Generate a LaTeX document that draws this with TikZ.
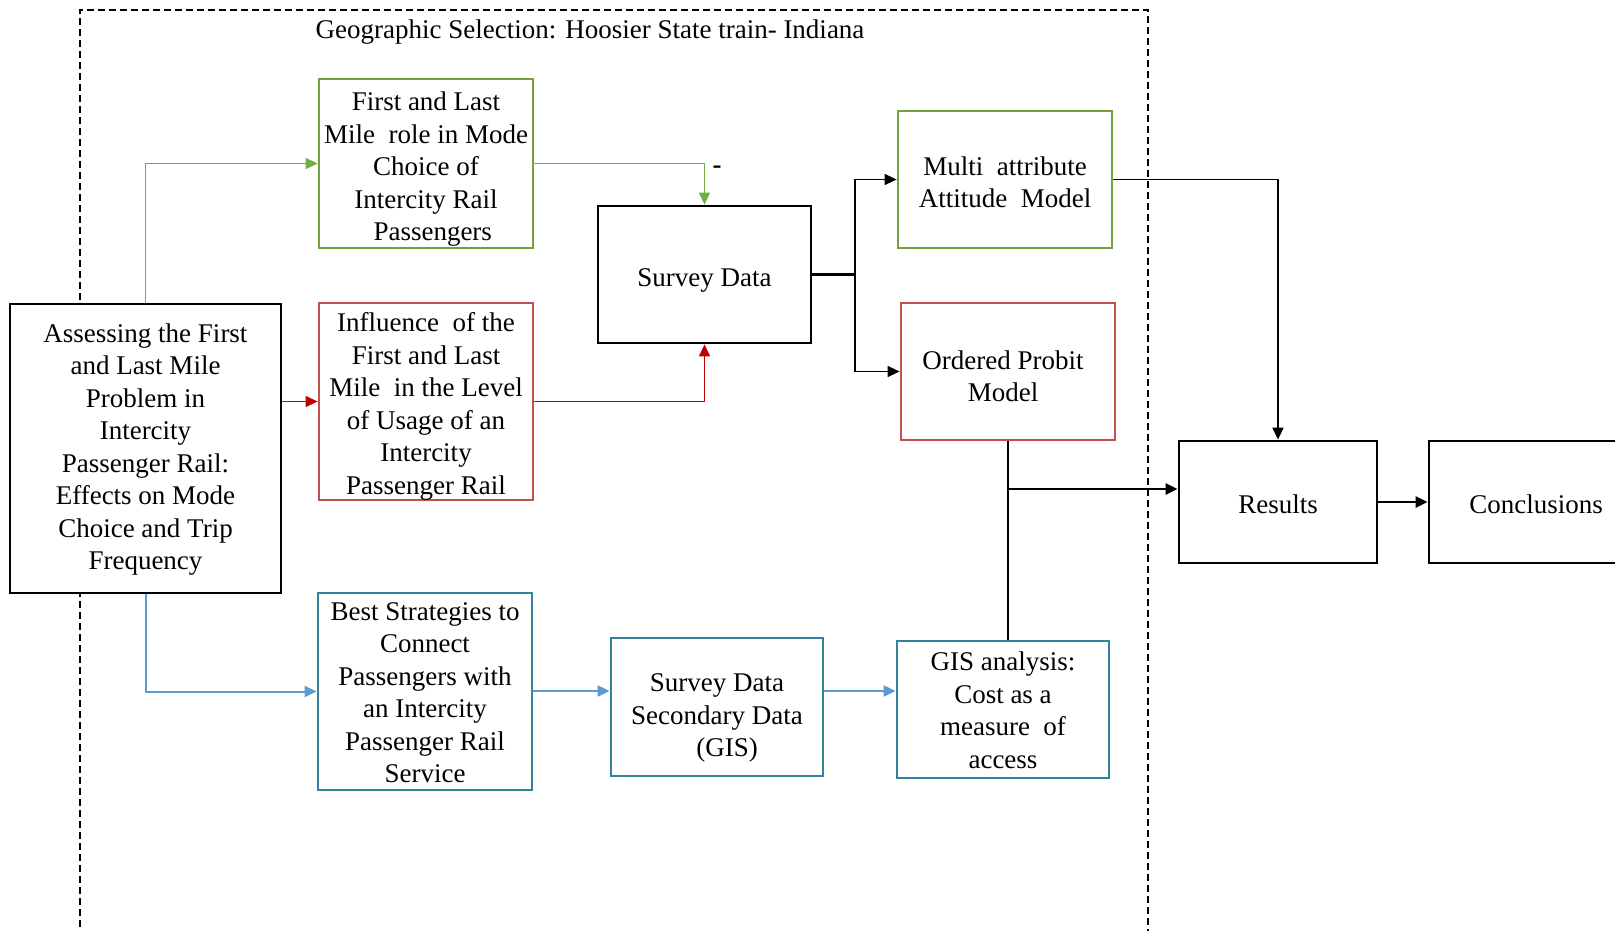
\documentclass[tikz,border=0pt]{standalone}
\usepackage{fontspec}
\setmainfont{Liberation Serif}
\usetikzlibrary{arrows.meta}

\definecolor{boxgreen}{HTML}{77A03C}
\definecolor{linegreen}{HTML}{70AD47}
\definecolor{boxred}{HTML}{C0504D}
\definecolor{linered}{HTML}{C00000}
\definecolor{boxteal}{HTML}{31849B}
\definecolor{lineblue}{HTML}{5B9BD5}

\newcommand{\boxfont}{\fontsize{27}{32.5}\selectfont}

\tikzset{
  tip/.style={-{Triangle[length=12pt,width=11pt]}},
  blockbox/.style={draw, fill=white, line width=2.8pt, rectangle, inner sep=0pt},
  greenbox/.style={blockbox, draw=boxgreen},
  redbox/.style={blockbox, draw=boxred},
  tealbox/.style={blockbox, draw=boxteal},
  blackbox/.style={blockbox, draw=black},
  txt/.style={inner sep=0pt, align=center, font=\boxfont},
  gline/.style={draw=linegreen, line width=1.5pt, tip},
  rline/.style={draw=linered, line width=1.5pt, tip},
  bline/.style={draw=lineblue, line width=2pt, tip},
  kline/.style={draw=black, line width=1.5pt, tip},
  kthick/.style={draw=black, line width=2.8pt, tip},
  frame/.style={draw=black, line width=1.3pt, dash pattern=on 7pt off 4pt},
}

\begin{document}
\begin{tikzpicture}[x=1pt, y=-1pt]
  \useasboundingbox (0,0) rectangle (1615,930);

  % study-area frame, open at the bottom
  \draw[frame] (80,960) -- (80,10) -- (1148,10) -- (1148,960);
  \node[txt] (title) at (590,32)
    {Geographic Selection: Hoosier State train- Indiana};

  % block outlines
  \node[blackbox, minimum width=271pt, minimum height=289pt] (A) at (145.5,448.5) {};
  \node[greenbox, minimum width=214pt, minimum height=169pt] (G1) at (426,163.5) {};
  \node[redbox, minimum width=214pt, minimum height=197pt] (R1) at (426,401.5) {};
  \node[tealbox, minimum width=214pt, minimum height=197pt] (B1) at (425,691.5) {};
  \node[blackbox, minimum width=213pt, minimum height=137pt] (SD) at (704.5,274.5) {};
  \node[tealbox, minimum width=212pt, minimum height=138pt] (SD2) at (717,707) {};
  \node[tealbox, minimum width=212pt, minimum height=137pt] (GIS) at (1003,709.5) {};
  \node[greenbox, minimum width=214pt, minimum height=137pt] (MA) at (1005,179.5) {};
  \node[redbox, minimum width=214pt, minimum height=137pt] (OP) at (1008,371.5) {};
  \node[blackbox, minimum width=198pt, minimum height=122pt] (RES) at (1278,502) {};
  \node[blackbox, minimum width=214pt, minimum height=122pt] (CON) at (1536,502) {};

  % block texts
  \node[txt] (At) at ([yshift=-1pt]A.center)
    {Assessing the First\\and Last Mile\\Problem in\\Intercity\\Passenger Rail:\\Effects on Mode\\Choice and Trip\\Frequency};
  \node[txt] (G1t) at ([yshift=-6pt]G1.center)
    {First and Last\\Mile\ \ role in Mode\\Choice of\\Intercity Rail\\\ \ Passengers};
  \node[txt] (R1t) at ([yshift=-5pt]R1.center)
    {Influence\ \ of the\\First and Last\\Mile\ \ in the Level\\of Usage of an\\Intercity\\Passenger Rail};
  \node[txt] (B1t) at ([yshift=-1pt]B1.center)
    {Best Strategies to\\Connect\\Passengers with\\an Intercity\\Passenger Rail\\Service};
  \node[txt] (SDt) at ([yshift=-6pt]SD.center) {Survey Data};
  \node[txt] (SD2t) at ([yshift=-11pt]SD2.center)
    {Survey Data\\Secondary Data\\\ \ \ (GIS)};
  \node[txt] (GISt) at ([yshift=-1pt]GIS.center)
    {GIS analysis:\\Cost as a\\measure\ \ of\\access};
  \node[txt] (MAt) at ([yshift=-3pt]MA.center)
    {Multi\ \ attribute\\Attitude\ \ Model};
  \node[txt] (OPt) at ([xshift=-5pt,yshift=-5pt]OP.center)
    {Ordered Probit\\Model};
  \node[txt] (RESt) at ([yshift=-2pt]RES.center) {Results};
  \node[txt] (CONt) at ([yshift=-2pt]CON.center) {Conclusions};

  % green branch
  \draw[gline] (A.north) |- (G1.west);
  \draw[gline] (G1.east) -| (SD.north);
  \node[txt, font=\boxfont\bfseries] (dash) at (717,170) {-};

  % red branch
  \draw[rline] (A.east |- R1.west) -- (R1.west);
  \draw[rline] (R1.east) -| (SD.south);

  % blue branch
  \draw[bline] (A.south) |- (B1.west);
  \coordinate (bl) at (0,691);
  \draw[bline] (B1.east |- bl) -- (SD2.west |- bl);
  \draw[bline] (SD2.east |- bl) -- (GIS.west |- bl);

  % survey data to the two models
  \coordinate (J) at (855,274.5);
  \draw[line width=2.4pt] (SD.east) -- (J);
  \draw[kline] (J) |- (MA.west);
  \draw[kline] (J) |- (OP.west);

  % models and GIS analysis to results
  \draw[kline] (MA.east) -| (RES.north);
  \coordinate (K) at (1008,489);
  \draw[line width=1.3pt] (OP.south) -- (OP.south |- K);
  \draw[kthick] (GIS.north -| K) -- (K) -- (K -| RES.west);
  \draw[kthick] (RES.east) -- (CON.west);
\end{tikzpicture}
\end{document}
